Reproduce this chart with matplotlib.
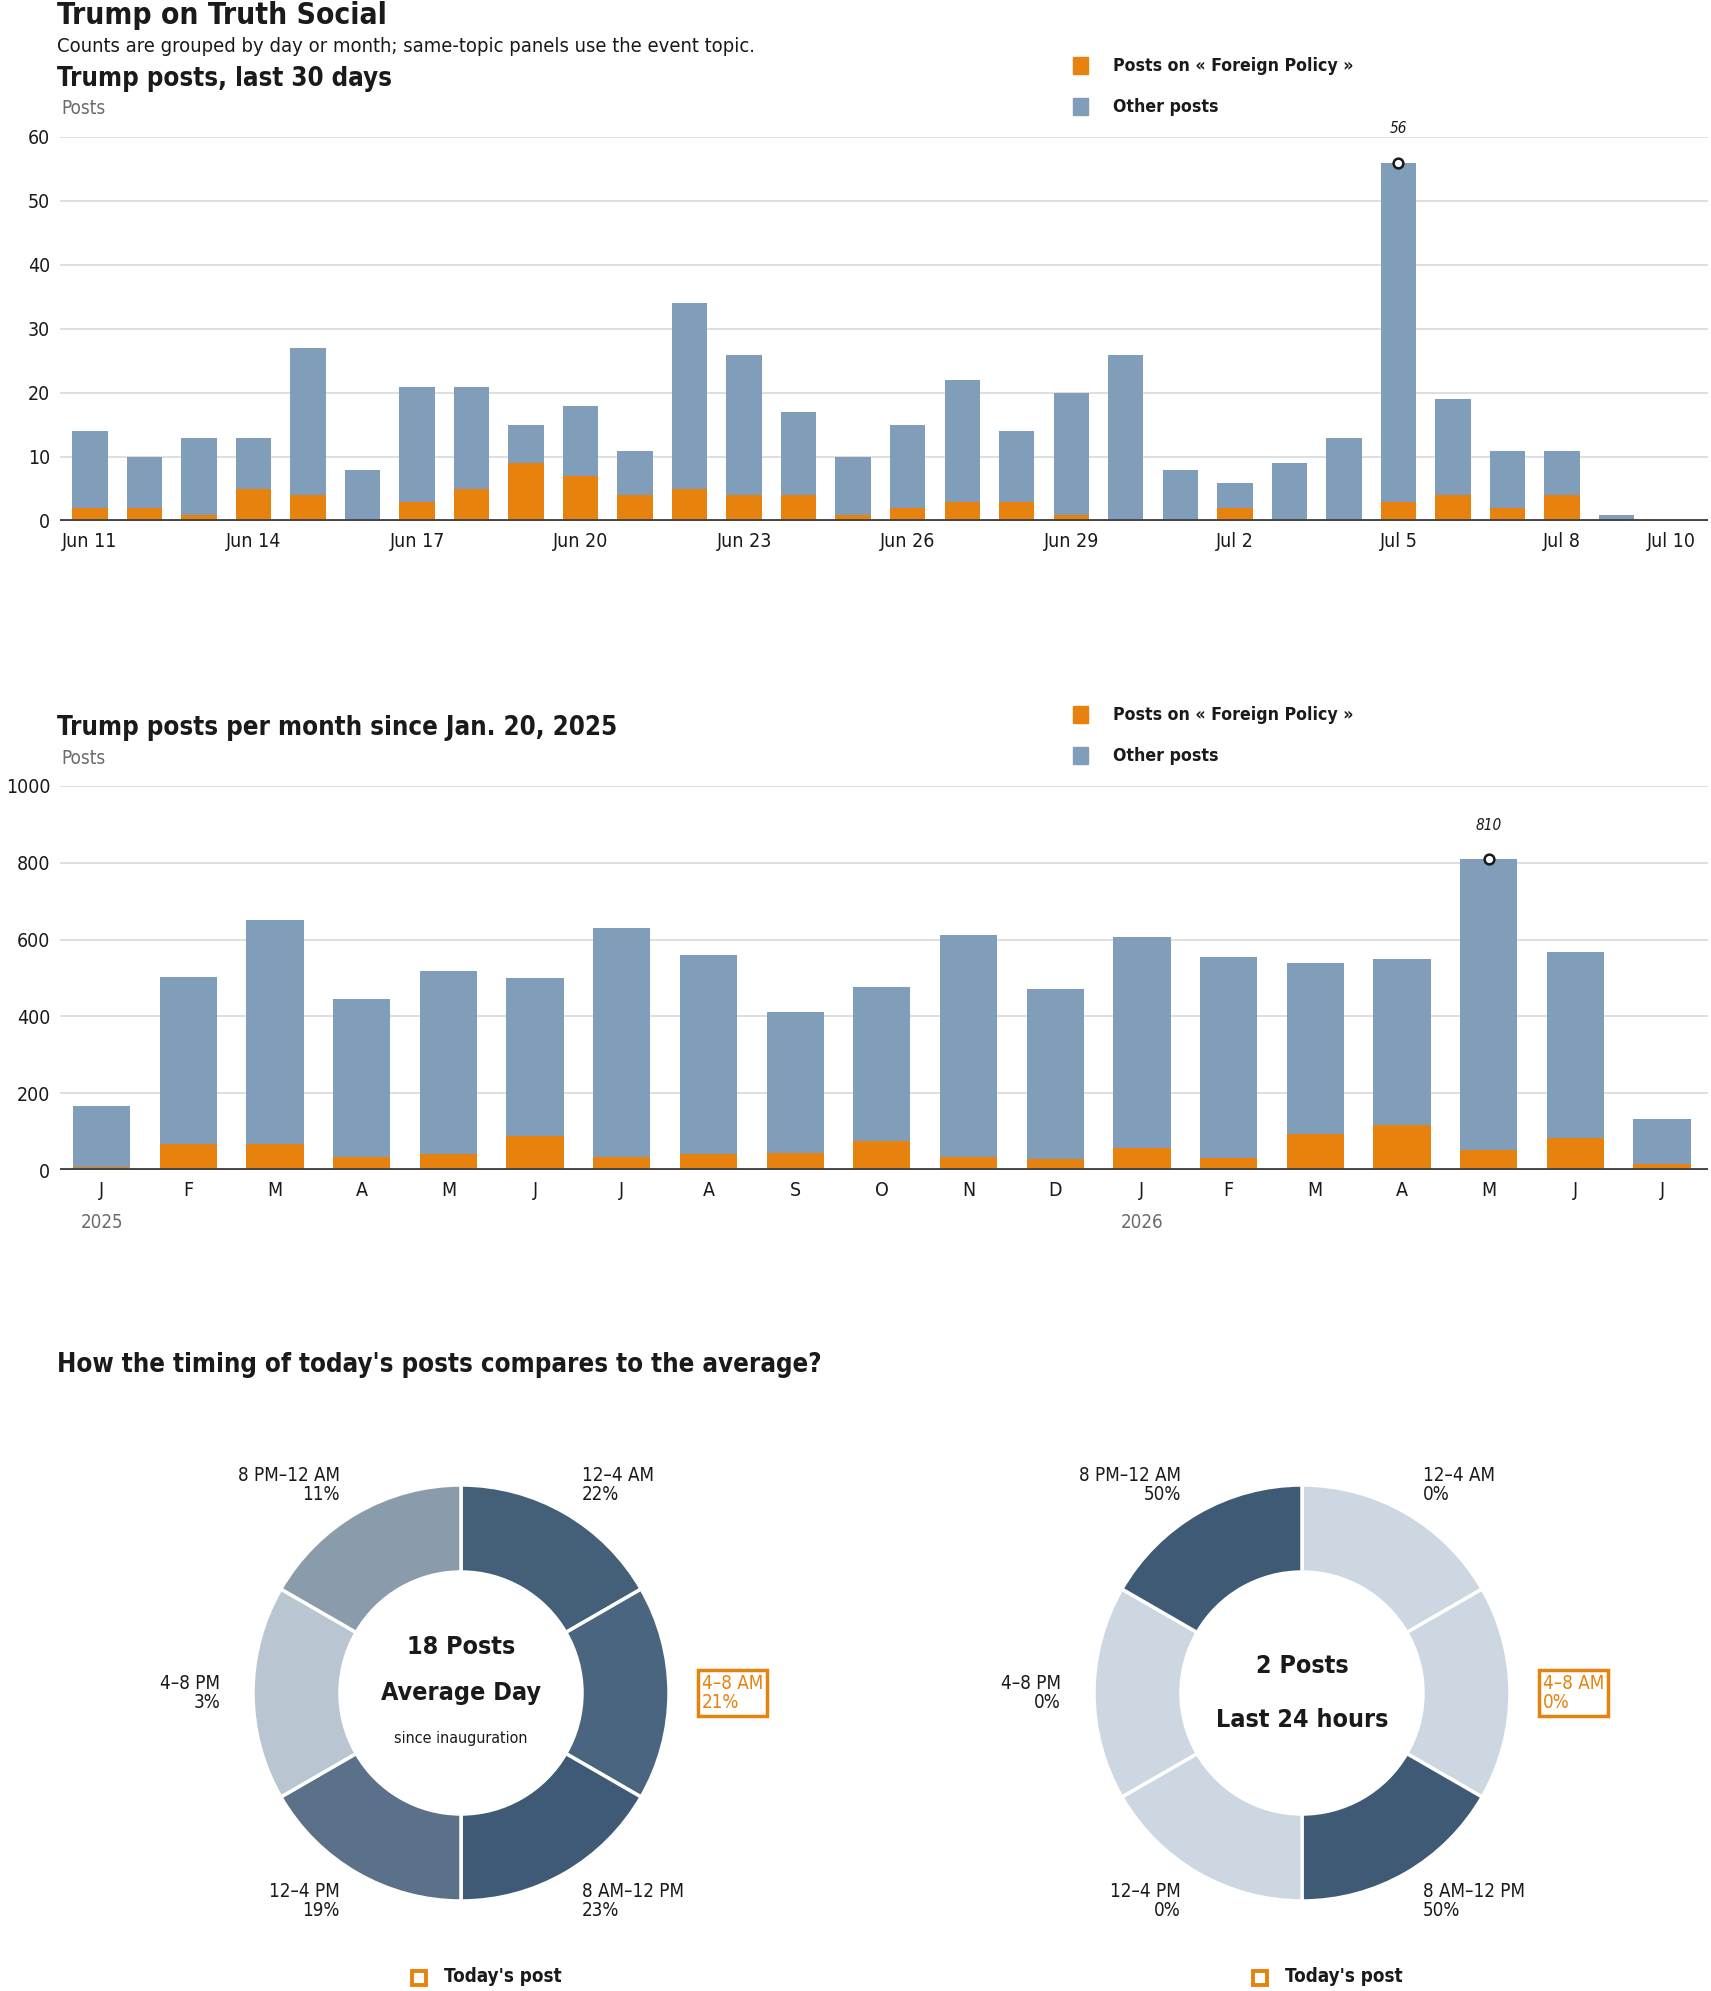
import numpy as np
import matplotlib.pyplot as plt
import matplotlib.transforms as mtransforms
from matplotlib.patches import Rectangle

plt.rcParams['font.family'] = ['DejaVu Sans']
plt.rcParams['font.stretch'] = 'condensed'

#--------------------- DATA -------------------#
day_labels = ["Jun 11", "Jun 12", "Jun 13", "Jun 14", "Jun 15", "Jun 16", "Jun 17", "Jun 18",
              "Jun 19", "Jun 20", "Jun 21", "Jun 22", "Jun 23", "Jun 24", "Jun 25", "Jun 26",
              "Jun 27", "Jun 28", "Jun 29", "Jun 30", "Jul 1", "Jul 2", "Jul 3", "Jul 4",
              "Jul 5", "Jul 6", "Jul 7", "Jul 8", "Jul 9", "Jul 10"]
day_total = [14, 10, 13, 13, 27, 8, 21, 21, 15, 18, 11, 34, 26, 17, 10, 15,
             22, 14, 20, 26, 8, 6, 9, 13, 56, 19, 11, 11, 1, 0]
day_topic = [2, 2, 1, 5, 4, 0, 3, 5, 9, 7, 4, 5, 4, 4, 1, 2,
             3, 3, 1, 0, 0, 2, 0, 0, 3, 4, 2, 4, 0, 0]
day_ticks = [0, 3, 6, 9, 12, 15, 18, 21, 24, 27, 29]

month_labels = ["J", "F", "M", "A", "M", "J", "J", "A", "S", "O", "N", "D",
                "J", "F", "M", "A", "M", "J", "J"]
month_total = [167, 503, 652, 446, 519, 499, 629, 561, 412, 477, 612, 472,
               607, 555, 538, 550, 810, 569, 133]
month_topic = [7, 68, 68, 35, 42, 88, 33, 42, 44, 75, 35, 29,
               57, 30, 95, 116, 51, 84, 16]
year_labels = {0: "2025", 12: "2026"}

slots = ["12–4 AM", "4–8 AM", "8 AM–12 PM", "12–4 PM", "4–8 PM", "8 PM–12 AM"]
avg_pct = [22, 21, 23, 19, 3, 11]
today_pct = [0, 0, 50, 0, 0, 50]
highlight_slot = 1

#--------------------- STYLE -------------------#
ORANGE = "#e8820e"
BLUE = "#809db9"
GRID = "#d9d9d9"
DARK = "#1a1a1a"
GREY = "#6b6b6b"
avg_colors = ["#445f78", "#4a6580", "#3e5a76", "#5a7189", "#b9c6d2", "#8a9bab"]
today_colors = ["#3f5a75" if p > 0 else "#cdd7e1" for p in today_pct]

W, H = 1711, 1991
fig = plt.figure(figsize=(W / 100, H / 100), dpi=100)


def fx(x):
    return x / W


def fy(y):
    return 1 - y / H


def legend(y1, y2):
    for yy, col, txt in [(y1, ORANGE, "Posts on « Foreign Policy »"), (y2, BLUE, "Other posts")]:
        fig.patches.append(Rectangle((fx(1073), fy(yy + 8)), 15 / W, 17 / H,
                                     transform=fig.transFigure, color=col))
        fig.text(fx(1113), fy(yy), txt, fontsize=12.7, fontweight="bold", color=DARK, va="center")


def bar_panel(rect, totals, topic, ymax, yticks, xlim, width):
    ax = fig.add_axes(rect)
    x = np.arange(len(totals))
    other = np.array(totals) - np.array(topic)
    ax.bar(x, topic, width=width, color=ORANGE, zorder=2)
    ax.bar(x, other, bottom=topic, width=width, color=BLUE, zorder=2)
    ax.set_ylim(0, ymax)
    ax.set_xlim(*xlim)
    ax.set_yticks(yticks)
    ax.yaxis.grid(True, color=GRID, lw=1.2, zorder=0)
    ax.axhline(0, color="#444444", lw=2.8, zorder=3)
    for s in ax.spines.values():
        s.set_visible(False)
    ax.tick_params(length=0, labelsize=14, colors=DARK, pad=8)
    ax.tick_params(axis="y", pad=7)
    # peak annotation
    i = int(np.argmax(totals))
    ax.plot(i, totals[i], "o", mfc="white", mec=DARK, ms=7, mew=1.8, zorder=4)
    ax.annotate(str(totals[i]), (i, totals[i]), xytext=(0, 19), textcoords="offset points",
                ha="center", va="bottom", fontsize=11, style="italic", color=DARK)
    return ax


#--------------------- HEADER -------------------#
fig.text(fx(57), fy(16), "Trump on Truth Social", fontsize=21.5, fontweight="bold", color=DARK, va="center")
fig.text(fx(57), fy(46), "Counts are grouped by day or month; same-topic panels use the event topic.",
         fontsize=14.5, color=DARK, va="center")

#--------------------- PANEL 1 -------------------#
fig.text(fx(57), fy(79), "Trump posts, last 30 days", fontsize=18.5, fontweight="bold", color=DARK, va="center")
fig.text(fx(61), fy(109), "Posts", fontsize=13.5, color=GREY, va="center")
legend(66, 107)
ax1 = bar_panel([fx(60), fy(521), (1708 - 60) / W, (521 - 137) / H], day_total, day_topic,
                60, range(0, 61, 10), (-0.55, 29.68), 0.65)
ax1.set_xticks(day_ticks)
ax1.set_xticklabels([day_labels[i] for i in day_ticks])

#--------------------- PANEL 2 -------------------#
fig.text(fx(57), fy(728), "Trump posts per month since Jan. 20, 2025", fontsize=18.5, fontweight="bold",
         color=DARK, va="center")
fig.text(fx(61), fy(759), "Posts", fontsize=13.5, color=GREY, va="center")
legend(715, 756)
ax2 = bar_panel([fx(60), fy(1170), (1708 - 60) / W, (1170 - 786) / H], month_total, month_topic,
                1000, range(0, 1001, 200), (-0.48, 18.53), 0.66)
ax2.set_xticks(range(len(month_labels)))
ax2.set_xticklabels(month_labels)
tr = mtransforms.blended_transform_factory(ax2.transData, fig.transFigure)
for i, yr in year_labels.items():
    ax2.text(i, fy(1223), yr, transform=tr, ha="center", va="center", fontsize=13.5, color=GREY)

#--------------------- DONUTS -------------------#
fig.text(fx(57), fy(1365), "How the timing of today's posts compares to the average?", fontsize=18.5,
         fontweight="bold", color=DARK, va="center")

R, r, S = 208, 121, 330


def donut(cx, cy, pcts, colors, center_lines):
    ax = fig.add_axes([fx(cx - S), fy(cy + S), 2 * S / W, 2 * S / H])
    ax.pie([1] * len(pcts), colors=colors, startangle=90, counterclock=False, radius=R,
           wedgeprops=dict(width=R - r, edgecolor="white", linewidth=2.5), frame=True)
    ax.set_xlim(-S, S)
    ax.set_ylim(-S, S)
    ax.set_aspect("equal")
    ax.axis("off")
    # label offsets (px) for each slot
    pos = [(121, 208, "left"), (241, 0, "left"), (121, -208, "left"),
           (-121, -208, "right"), (-241, 0, "right"), (-121, 208, "right")]
    for k, (dx, dy, ha) in enumerate(pos):
        txt = f"{slots[k]}\n{pcts[k]}%"
        if k == highlight_slot:
            ax.text(dx, dy, txt, ha=ha, va="center", fontsize=13.5, color=ORANGE, linespacing=1.05,
                    bbox=dict(boxstyle="square,pad=0.2", fc="white", ec=ORANGE, lw=2.5))
        else:
            ax.text(dx, dy, txt, ha=ha, va="center", fontsize=13.5, color=DARK, linespacing=1.05,
                    multialignment=ha)
    for dy, t, fs, fw in center_lines:
        ax.text(0, dy, t, ha="center", va="center", fontsize=fs, fontweight=fw, color=DARK)
    # legend
    ax.add_patch(Rectangle((-49, -292), 14, 14, fc="white", ec=ORANGE, lw=2.8, clip_on=False))
    ax.text(-17, -284, "Today's post", ha="left", va="center", fontsize=13.5, fontweight="bold", color=DARK)
    return ax


donut(461, 1693, avg_pct, avg_colors,
      [(46, "18 Posts", 18, "bold"), (0, "Average Day", 18, "bold"), (-46, "since inauguration", 11.5, "normal")])
donut(1302, 1693, today_pct, today_colors,
      [(27, "2 Posts", 18, "bold"), (-27, "Last 24 hours", 18, "bold")])

fig.savefig("out.png", dpi=100)
